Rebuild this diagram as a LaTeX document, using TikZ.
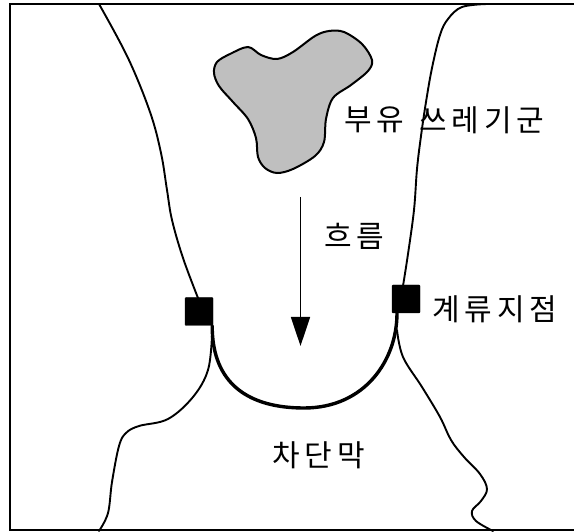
\documentclass[tikz,border=0pt]{standalone}
\usepackage{fontspec}
\newfontfamily\kr{Noto Sans CJK KR}[LetterSpace=16]
\usetikzlibrary{arrows.meta}
\tikzset{
  bank/.style={line width=1.9pt, line join=round, line cap=round},
  barrier/.style={line width=3.4pt, line cap=round},
  mooring/.style={fill=black, draw=black, rounded corners=1pt, minimum size=28pt, inner sep=0pt},
  label/.style={anchor=west, inner sep=0pt, font=\kr\fontsize{30}{33}\selectfont},
  flow/.style={line width=1.6pt, -{Triangle[width=19pt,length=29pt]}},
  debris/.style={fill=black!25, draw=black, line width=2pt}
}
\begin{document}
\begin{tikzpicture}[x=1pt,y=-1pt]
\useasboundingbox (0,0) rectangle (574,532);
% outer frame (right side runs off the page)
\draw[line width=2pt] (9.5,4.5) rectangle (580,530);

% upper river banks
\draw[bank] plot[smooth, tension=0.6] coordinates {(99,4) (128,58) (150,112) (161,153) (167,190) (172,220) (183,258) (198,298)};
\draw[bank] plot[smooth, tension=0.6] coordinates {(487,4) (462,7) (448,19) (440,35) (432,68) (426,102) (421,136) (417,169) (414,210) (408,254) (403,286)};

% lower river banks
\draw[bank] plot[smooth, tension=0.6] coordinates {(212,335) (208,370) (193,397) (168,419) (139,426) (126,433) (119,446) (112,482) (108,513) (99,531)};
\draw[bank] plot[smooth, tension=0.6] coordinates {(397,330) (403,357) (422,387) (440,417) (451,440) (464,457) (480,474) (487,489) (481,501) (472,511) (476,521) (493,531)};

% floating debris
\draw[debris] plot[smooth cycle, tension=0.55] coordinates {(248,47) (230,54) (217,62) (214,73) (219,86) (233,102) (248,119) (256,138) (258,157) (265,168) (277,173) (293,169) (315,156) (324,142) (326,119) (333,98) (351,85) (368,71) (372,60) (362,44) (344,32) (329,31) (315,36) (293,52) (277,59) (261,55)};

% mooring points
\node[mooring] (mL) at (199,311.5) {};
\node[mooring] (mR) at (406,299) {};

% barrier boom
\draw[barrier] (mL.south east) ++(-1,0) coordinate (bL)
  .. controls (212,385) and (250,408) .. (304,408)
  .. controls (365,408) and (397,360) .. (mR.south west -| 397,0) ;

% flow arrow
\coordinate (fA) at (300.5,197);
\coordinate (fB) at (300.5,346);
\draw[flow] (fA) -- (fB);

% labels
\node[label] (t1) at (344,120) {부유};
\node[label] (t2) at (419,120) {쓰레기군};
\node[label] (t3) at (324,236) {흐름};
\node[label] (t4) at (432,309) {계류지점};
\node[label] (t5) at (272,455) {차단막};
\end{tikzpicture}
\end{document}
